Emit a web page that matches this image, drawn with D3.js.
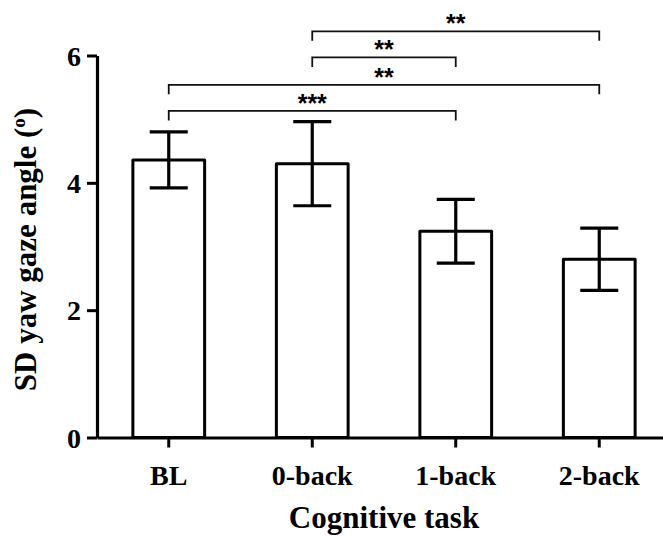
<!DOCTYPE html>
<html>
<head>
<meta charset="utf-8">
<script src="https://cdn.jsdelivr.net/npm/d3@7/dist/d3.min.js"></script>
<style>
  html, body { margin: 0; padding: 0; background: #fff; }
  svg { display: block; }
</style>
</head>
<body>
<svg id="chart" width="663" height="537"></svg>
<script>
// ---- data ----
const categories = ["BL", "0-back", "1-back", "2-back"];
const means = [4.36, 4.30, 3.24, 2.80];
const sem = [0.44, 0.66, 0.50, 0.49];
const yTicks = [0, 2, 4, 6];
const compFrom = ["0-back", "0-back", "BL", "BL"];
const compTo = ["2-back", "1-back", "2-back", "1-back"];
const compLevel = [6.38, 5.97, 5.54, 5.13];
const compLabel = ["**", "**", "**", "***"];
const xTitle = "Cognitive task";
const yTitle = "SD yaw gaze angle (";
const yTitleSup = "o";

// ---- layout ----
const svg = d3.select("#chart");
const serif = "'Liberation Serif','Times New Roman',Times,serif";
const sans = "'Liberation Sans',Arial,Helvetica,sans-serif";

const x = d3.scaleBand().domain(categories).range([97, 671])
  .paddingInner(0.5).paddingOuter(0.25);
const y = d3.scaleLinear().domain([0, 6]).range([437.5, 55.5]);

const data = categories.map((c, i) => ({ c, m: means[i], e: sem[i] }));

// bars
svg.append("g").selectAll("rect").data(data).join("rect")
  .attr("x", d => x(d.c))
  .attr("y", d => y(d.m))
  .attr("width", x.bandwidth())
  .attr("height", d => y(0) - y(d.m))
  .attr("fill", "#fff")
  .attr("stroke", "#000")
  .attr("stroke-width", 3)
  .attr("stroke-linejoin", "round");

// error bars
const capW = x.bandwidth() * 0.53;
const eg = svg.append("g").attr("stroke", "#000").attr("stroke-width", 3.2);
data.forEach(d => {
  const cx = x(d.c) + x.bandwidth() / 2;
  eg.append("line").attr("x1", cx).attr("x2", cx)
    .attr("y1", y(d.m + d.e)).attr("y2", y(d.m - d.e));
  eg.append("line").attr("x1", cx - capW / 2).attr("x2", cx + capW / 2)
    .attr("y1", y(d.m + d.e)).attr("y2", y(d.m + d.e));
  eg.append("line").attr("x1", cx - capW / 2).attr("x2", cx + capW / 2)
    .attr("y1", y(d.m - d.e)).attr("y2", y(d.m - d.e));
});

// y axis
const yAxis = svg.append("g").attr("transform", "translate(97,0)")
  .call(d3.axisLeft(y).tickValues(yTicks).tickFormat(d3.format("d"))
    .tickSize(10).tickSizeOuter(0).tickPadding(6));
yAxis.select(".domain").attr("stroke-width", 3.2).attr("stroke", "#000");
yAxis.selectAll(".tick line").attr("stroke-width", 3).attr("stroke", "#000");
yAxis.selectAll(".tick text").attr("font-family", serif).attr("font-weight", "bold")
  .attr("font-size", 28).attr("fill", "#000").attr("dy", "0.34em");

// x axis
const xAxis = svg.append("g").attr("transform", `translate(0,${y(0)})`)
  .call(d3.axisBottom(x).tickSize(10).tickSizeOuter(0).tickPadding(18));
xAxis.select(".domain").attr("stroke-width", 3.2).attr("stroke", "#000");
xAxis.selectAll(".tick line").attr("stroke-width", 3).attr("stroke", "#000");
xAxis.selectAll(".tick text").attr("font-family", serif).attr("font-weight", "bold")
  .attr("font-size", 28).attr("fill", "#000").attr("dy", "0.71em");

// axis titles
svg.append("text")
  .attr("x", 384).attr("y", 528)
  .attr("text-anchor", "middle")
  .attr("font-family", serif).attr("font-weight", "bold").attr("font-size", 31)
  .text(xTitle);

const yt = svg.append("text")
  .attr("transform", "translate(36,249.5) rotate(-90)")
  .attr("text-anchor", "middle")
  .attr("font-family", serif).attr("font-weight", "bold").attr("font-size", 31);
yt.append("tspan").text(yTitle);
yt.append("tspan").attr("font-size", 19).attr("dy", -11).text(yTitleSup);
yt.append("tspan").attr("dy", 11).text(")");

// significance brackets
const drop = 0.15;
const bg = svg.append("g");
compFrom.forEach((f, i) => {
  const x1 = x(f) + x.bandwidth() / 2;
  const x2 = x(compTo[i]) + x.bandwidth() / 2;
  const yl = y(compLevel[i]);
  const yd = y(compLevel[i] - drop);
  bg.append("path")
    .attr("d", `M${x1},${yd}V${yl}H${x2}V${yd}`)
    .attr("fill", "none").attr("stroke", "#111").attr("stroke-width", 1.8);
  bg.append("text")
    .attr("x", (x1 + x2) / 2).attr("y", yl + 1)
    .attr("text-anchor", "middle")
    .attr("font-family", sans).attr("font-size", 25).attr("font-weight", "bold")
    .attr("fill", "#000")
    .text(compLabel[i]);
});
</script>
</body>
</html>
